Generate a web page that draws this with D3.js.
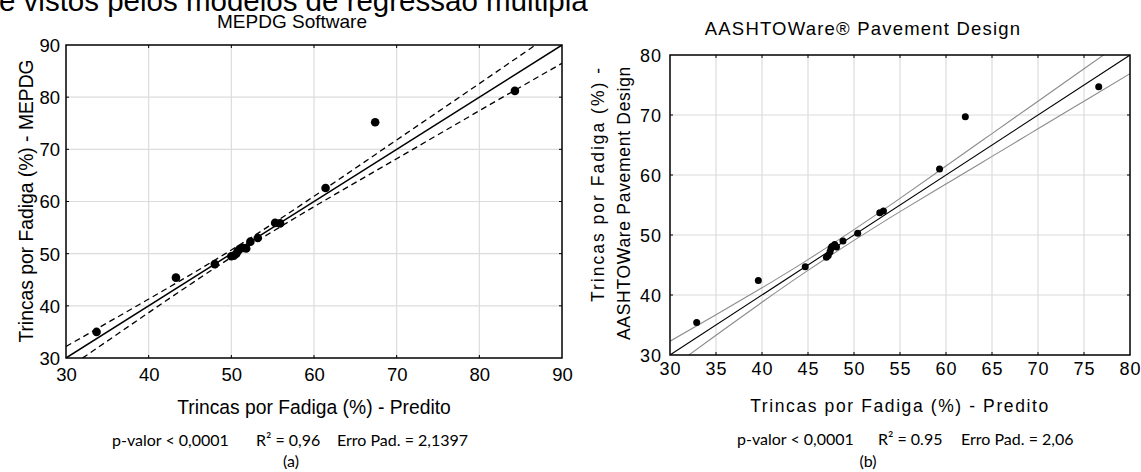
<!DOCTYPE html>
<html><head><meta charset="utf-8">
<script src="https://cdn.jsdelivr.net/npm/d3@7"></script>
<style>
body{margin:0;background:#fff}
svg{display:block}
text{font-family:"Liberation Sans",Arial,sans-serif;fill:#000}
.stat{font-family:Lato,"Open Sans",sans-serif}
</style></head><body>
<svg id="c" width="1141" height="472"></svg>
<script>
// ---------- DATA ----------
const headerText = "e vistos pelos modelos de regressão múltipla";

const titleA = "MEPDG Software";
const xLabelA = "Trincas por Fadiga (%) - Predito";
const yLabelA = ["Trincas por Fadiga (%) - MEPDG"];
const xTicksA = [30, 40, 50, 60, 70, 80, 90];
const yTicksA = [30, 40, 50, 60, 70, 80, 90];
const predA = [33.7, 43.3, 48.0, 50.0, 50.3, 50.6, 50.8, 51.0, 51.4, 51.8, 52.3, 53.2, 55.3, 55.9, 61.4, 67.4, 84.3];
const obsA  = [35.0, 45.4, 48.0, 49.5, 49.6, 50.0, 50.5, 50.9, 51.1, 51.0, 52.3, 53.0, 55.9, 55.8, 62.6, 75.2, 81.2];
const fitA = [[30, 30], [90, 90]];
const bandXA = [30, 40, 50, 60, 70, 80, 90];
const bandUpA = [32.2, 41.3, 50.7, 61.0, 71.8, 82.6, 93.5];
const bandLoA = [27.8, 38.7, 49.3, 59.0, 68.2, 77.4, 86.5];
const statsA = ["p-valor < 0,0001", "R² = 0,96", "Erro Pad. = 2,1397"];
const tagA = "(a)";

const titleB = "AASHTOWare® Pavement Design";
const xLabelB = "Trincas por Fadiga (%) - Predito";
const yLabelB = ["Trincas por Fadiga (%) -", "AASHTOWare Pavement Design"];
const xTicksB = [30, 35, 40, 45, 50, 55, 60, 65, 70, 75, 80];
const yTicksB = [30, 40, 50, 60, 70, 80];
const predB = [32.9, 39.6, 44.7, 47.0, 47.2, 47.4, 47.5, 47.6, 47.9, 48.1, 48.8, 50.4, 52.8, 53.2, 59.3, 62.1, 76.6];
const obsB  = [35.4, 42.4, 44.7, 46.3, 46.6, 47.2, 47.8, 48.1, 48.4, 48.0, 49.0, 50.3, 53.7, 54.0, 61.0, 69.7, 74.7];
const fitB = [[30, 30], [80, 80]];
const bandXB = [30, 35, 40, 45, 50, 55, 60, 65, 70, 75, 80];
const bandUpB = [32.3, 36.7, 41.2, 45.9, 50.9, 56.1, 61.5, 66.9, 72.3, 77.7, 83.1];
const bandLoB = [27.7, 33.3, 38.8, 44.1, 49.1, 53.9, 58.5, 63.1, 67.7, 72.3, 76.9];
const statsB = ["p-valor < 0,0001", "R² = 0.95", "Erro Pad. = 2,06"];
const tagB = "(b)";

// ---------- DRAW ----------
const svg = d3.select("#c");
svg.append("text").attr("x", -1).attr("y", 11).attr("font-size", 29.5).text(headerText);

function panel(o) {
  const x = d3.scaleLinear().domain([o.xTicks[0], o.xTicks[o.xTicks.length-1]]).range([o.x0, o.x1]);
  const y = d3.scaleLinear().domain([o.yTicks[0], o.yTicks[o.yTicks.length-1]]).range([o.y1, o.y0]);
  const g = svg.append("g");
  const clipId = "clip" + o.id;
  svg.append("clipPath").attr("id", clipId).append("rect")
    .attr("x", o.x0).attr("y", o.y0).attr("width", o.x1 - o.x0).attr("height", o.y1 - o.y0);
  // grid
  g.selectAll(".gx").data(o.xTicks.slice(1, -1)).join("line")
    .attr("x1", d => x(d)).attr("x2", d => x(d)).attr("y1", o.y0).attr("y2", o.y1)
    .attr("stroke", "#dcdcdc").attr("stroke-width", 1.2);
  g.selectAll(".gy").data(o.yTicks.slice(1, -1)).join("line")
    .attr("y1", d => y(d)).attr("y2", d => y(d)).attr("x1", o.x0).attr("x2", o.x1)
    .attr("stroke", "#dcdcdc").attr("stroke-width", 1.2);
  // inner ticks on all sides
  const tk = 3;
  o.xTicks.slice(1, -1).forEach(d => {
    g.append("line").attr("x1", x(d)).attr("x2", x(d)).attr("y1", o.y0).attr("y2", o.y0 + tk).attr("stroke", "#000");
    g.append("line").attr("x1", x(d)).attr("x2", x(d)).attr("y1", o.y1).attr("y2", o.y1 - tk).attr("stroke", "#000");
  });
  o.yTicks.slice(1, -1).forEach(d => {
    g.append("line").attr("y1", y(d)).attr("y2", y(d)).attr("x1", o.x0).attr("x2", o.x0 + tk).attr("stroke", "#000");
    g.append("line").attr("y1", y(d)).attr("y2", y(d)).attr("x1", o.x1).attr("x2", o.x1 - tk).attr("stroke", "#000");
  });
  // bands + fit
  const lg = g.append("g").attr("clip-path", `url(#${clipId})`);
  const band = d3.line().x(d => x(d[0])).y(d => y(d[1])).curve(d3.curveNatural);
  [o.bandUp, o.bandLo].forEach(arr => {
    lg.append("path").datum(o.bandX.map((v, i) => [v, arr[i]]))
      .attr("d", band).attr("fill", "none")
      .attr("stroke", o.bandColor).attr("stroke-width", o.bandWidth)
      .attr("stroke-dasharray", o.dash || null);
  });
  lg.append("path").datum(o.fit).attr("d", d3.line().x(d => x(d[0])).y(d => y(d[1])))
    .attr("stroke", "#000").attr("stroke-width", o.fitWidth).attr("fill", "none");
  // points
  g.selectAll(".pt").data(o.pred.map((v, i) => [v, o.obs[i]])).join("circle")
    .attr("cx", d => x(d[0])).attr("cy", d => y(d[1])).attr("r", o.r).attr("fill", "#000");
  // frame
  g.append("rect").attr("x", o.x0).attr("y", o.y0).attr("width", o.x1 - o.x0).attr("height", o.y1 - o.y0)
    .attr("fill", "none").attr("stroke", "#000").attr("stroke-width", 1.5);
  // axes labels via d3 axes
  const ax = d3.axisBottom(x).tickValues(o.xTicks).tickSize(0).tickPadding(0).tickFormat(d3.format("d"));
  const ag = g.append("g").attr("transform", `translate(0,${o.y1})`).call(ax);
  ag.select(".domain").remove();
  ag.selectAll("text").attr("font-size", o.tickFs).attr("dy", null).attr("y", o.xTickDy)
    .attr("letter-spacing", o.ls).style("font-family", '"Liberation Sans",Arial,sans-serif');
  const ay = d3.axisLeft(y).tickValues(o.yTicks).tickSize(0).tickPadding(0).tickFormat(d3.format("d"));
  const gy = g.append("g").attr("transform", `translate(${o.x0},0)`).call(ay);
  gy.select(".domain").remove();
  gy.selectAll("text").attr("font-size", o.tickFs).attr("x", -o.yTickPad).attr("dy", "0.35em")
    .attr("letter-spacing", o.ls).style("font-family", '"Liberation Sans",Arial,sans-serif');
  // titles
  g.append("text").attr("x", o.titleX).attr("y", o.titleY).attr("text-anchor", "middle")
    .attr("font-size", o.titleFs).attr("letter-spacing", o.titleLs).text(o.title);
  g.append("text").attr("x", (o.x0 + o.x1) / 2).attr("y", o.xLabY).attr("text-anchor", "middle")
    .attr("font-size", o.labFs).attr("letter-spacing", o.xLabLs).text(o.xLabel);
  o.yLabel.forEach((t, i) => {
    g.append("text").attr("transform", `translate(${o.yLabX[i]},${o.yLabY}) rotate(-90)`)
      .attr("text-anchor", o.yLabAnchor).attr("font-size", o.labFs).attr("letter-spacing", o.yLabLs[i]).text(t);
  });
  // stats
  o.stats.forEach((t, i) => {
    g.append("text").attr("class", "stat").attr("x", o.statX[i]).attr("y", o.statY)
      .attr("font-size", 16).text(t);
  });
  g.append("text").attr("class", "stat").attr("x", o.tagX).attr("y", o.tagY)
    .attr("text-anchor", "middle").attr("font-size", 16).text(o.tag);
}

panel({
  id: "A", x0: 66, x1: 562, y0: 45, y1: 358,
  xTicks: xTicksA, yTicks: yTicksA, pred: predA, obs: obsA, fit: fitA,
  bandX: bandXA, bandUp: bandUpA, bandLo: bandLoA, bandColor: "#000", bandWidth: 1.3, dash: "6,4",
  fitWidth: 1.5, r: 4.3, tickFs: 18.5, xTickDy: 23, yTickPad: 6, ls: 0,
  title: titleA, titleX: 292, titleY: 28, titleFs: 19, titleLs: 0,
  xLabel: xLabelA, xLabY: 414, labFs: 19.3, xLabLs: 0,
  yLabel: yLabelA, yLabX: [33], yLabY: 201, yLabAnchor: "middle", yLabLs: [0],
  stats: statsA, statX: [112, 256, 337], statY: 446, tag: tagA, tagX: 291, tagY: 467
});
panel({
  id: "B", x0: 670, x1: 1130, y0: 55, y1: 355,
  xTicks: xTicksB, yTicks: yTicksB, pred: predB, obs: obsB, fit: fitB,
  bandX: bandXB, bandUp: bandUpB, bandLo: bandLoB, bandColor: "#8c8c8c", bandWidth: 1.1, dash: null,
  fitWidth: 1.1, r: 3.5, tickFs: 18, xTickDy: 20, yTickPad: 8, ls: 1,
  title: titleB, titleX: 863, titleY: 35, titleFs: 18.5, titleLs: 1.2,
  xLabel: xLabelB, xLabY: 412, labFs: 17.5, xLabLs: 1.6,
  yLabel: yLabelB, yLabX: [604, 630], yLabY: 66, yLabAnchor: "end", yLabLs: [2, 0.7],
  stats: statsB, statX: [737, 878, 961], statY: 445, tag: tagB, tagX: 868, tagY: 467
});
</script></body></html>
